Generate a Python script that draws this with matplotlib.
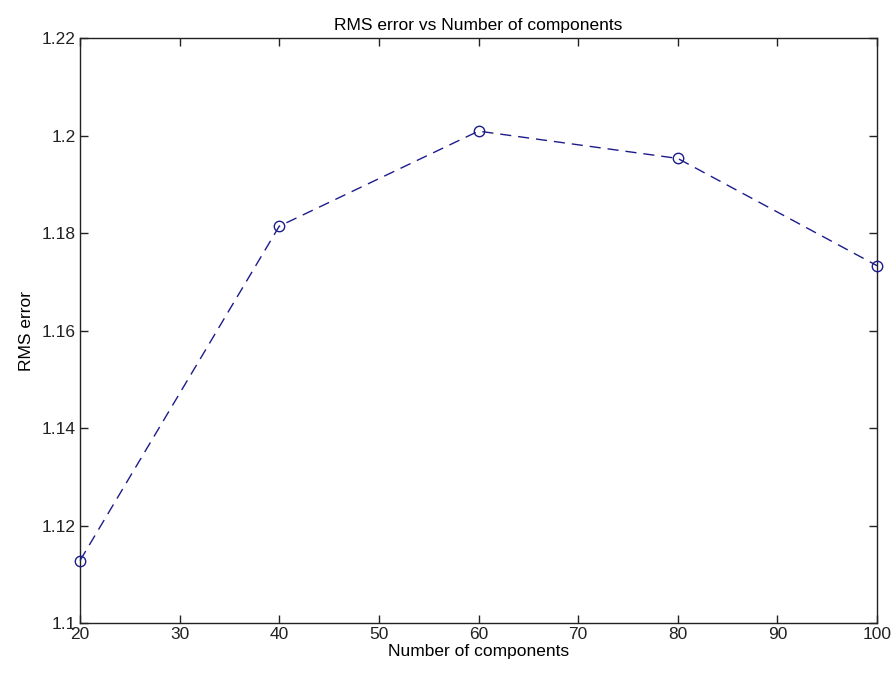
import numpy as np
import matplotlib.pyplot as plt

# Data
components = [20, 40, 60, 80, 100]
rms_error = [1.1128, 1.1814, 1.2009, 1.1953, 1.1733]

x_ticks = [20, 30, 40, 50, 60, 70, 80, 90, 100]
y_ticks = [1.1, 1.12, 1.14, 1.16, 1.18, 1.2, 1.22]
y_labels = ["1.1", "1.12", "1.14", "1.16", "1.18", "1.2", "1.22"]

plt.rcParams['font.family'] = ['Liberation Sans', 'DejaVu Sans']

fig = plt.figure(figsize=(8.93, 6.73), dpi=100)
ax = fig.add_axes([0.0896, 0.0743, 0.8925, 0.8692])

# Dashed line with open circle markers, not clipped at the axes edges
ax.plot(components, rms_error, linestyle=(0, (8, 5)), color='#1c1c8a',
        linewidth=1.0, marker='o', markersize=7.5, markerfacecolor='none',
        markeredgecolor='#1c1c8a', markeredgewidth=1.0, clip_on=False,
        zorder=5)

ax.set_xlim(20, 100)
ax.set_ylim(1.1, 1.22)
ax.set_xticks(x_ticks)
ax.set_yticks(y_ticks)
ax.set_yticklabels(y_labels)

ax.tick_params(direction='in', top=True, right=True, length=6, width=1,
               labelsize=12.5, pad=3, colors='#222222')
for spine in ax.spines.values():
    spine.set_linewidth(1.0)
    spine.set_color('#222222')

ax.set_xlabel('Number of components', fontsize=12.5, labelpad=1)
ax.set_ylabel('RMS error', fontsize=12.5, labelpad=6)
ax.set_title('RMS error vs Number of components', fontsize=12.5, pad=6)

fig.savefig('out.png', dpi=100)
